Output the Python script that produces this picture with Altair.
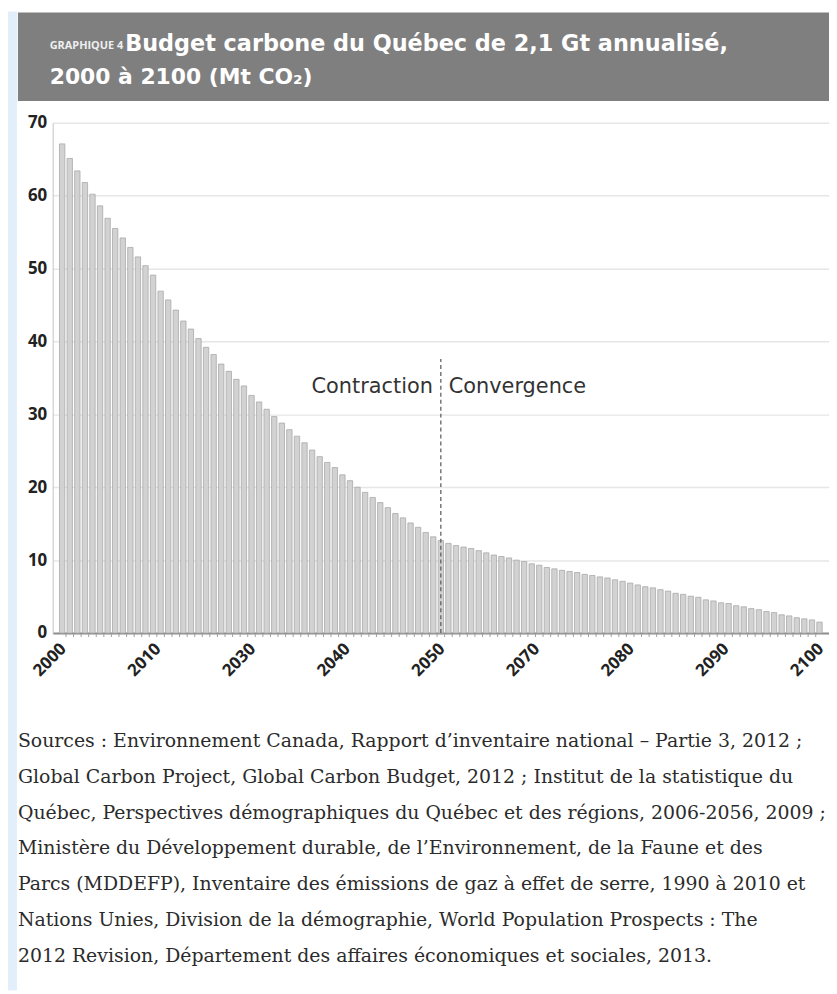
import altair as alt
import pandas as pd

# ---------------- data ----------------
years = list(range(2000, 2101))
values = [
    67.1, 65.1, 63.4, 61.8, 60.2, 58.6, 56.9, 55.5, 54.2, 52.9,
    51.6, 50.4, 49.1, 46.9, 45.7, 44.3, 42.8, 41.7, 40.4, 39.2,
    38.2, 36.9, 35.9, 34.8, 33.9, 32.6, 31.7, 30.7, 29.7, 28.8,
    27.9, 27.0, 26.1, 25.1, 24.2, 23.4, 22.7, 21.7, 20.9, 20.0,
    19.3, 18.6, 17.9, 17.2, 16.4, 15.8, 15.1, 14.5, 13.8, 13.2,
    12.7, 12.3, 12.0, 11.8, 11.6, 11.3, 11.0, 10.7, 10.5, 10.3,
    10.0, 9.8, 9.5, 9.3, 9.0, 8.8, 8.6, 8.45, 8.3, 8.05,
    7.9, 7.7, 7.55, 7.3, 7.1, 6.85, 6.6, 6.35, 6.2, 5.95,
    5.75, 5.45, 5.3, 5.05, 4.9, 4.55, 4.4, 4.15, 4.05, 3.75,
    3.6, 3.35, 3.2, 2.95, 2.8, 2.5, 2.35, 2.1, 1.95, 1.8,
    1.5,
]
tick_positions = [2000, 2012.5, 2025, 2037.5, 2050, 2062.5, 2075, 2087.5, 2100]
tick_labels = ["2000", "2010", "2030", "2040", "2050", "2070", "2080", "2090", "2100"]
y_ticks = [0, 10, 20, 30, 40, 50, 60, 70]

phase_year = [2050]
phase_top = [37.6]
phase_label_y = [33.7]
phase_labels = ["Contraction", "Convergence"]

header_kicker = "GRAPHIQUE 4"
header_lines = ["Budget carbone du Québec de 2,1 Gt annualisé,", "2000 à 2100 (Mt CO₂)"]
source_lines = [
    "Sources : Environnement Canada, Rapport d’inventaire national – Partie 3, 2012 ;",
    "Global Carbon Project, Global Carbon Budget, 2012 ; Institut de la statistique du",
    "Québec, Perspectives démographiques du Québec et des régions, 2006-2056, 2009 ;",
    "Ministère du Développement durable, de l’Environnement, de la Faune et des",
    "Parcs (MDDEFP), Inventaire des émissions de gaz à effet de serre, 1990 à 2010 et",
    "Nations Unies, Division de la démographie, World Population Prospects : The",
    "2012 Revision, Département des affaires économiques et sociales, 2013.",
]

# ---------------- layout ----------------
W, H = 782, 514
PAD_L, PAD_T = 45, 112
SANS = "Open Sans"
WIDE = "DejaVu Sans"

df = pd.DataFrame({"year": years, "value": values})
df_ticks = pd.DataFrame({"year": [y - 0.5 for y in years[1:]]})
df_phase = pd.DataFrame({"year": phase_year, "value": [0], "value2": phase_top})
df_lab = pd.DataFrame({"year": phase_year * 2, "value": phase_label_y * 2, "label": phase_labels})

pos_js = "[" + ",".join(str(p) for p in tick_positions) + "]"
lab_js = "[" + ",".join("'" + l + "'" for l in tick_labels) + "]"
label_expr = f"{lab_js}[indexof({pos_js}, datum.value)]"

xscale = alt.Scale(domain=[1999.4, 2100.6], nice=False, zero=False)
yscale = alt.Scale(domain=[0, 70], nice=False)

X = alt.X("year:Q", scale=xscale, title=None, axis=alt.Axis(
    values=tick_positions, labelExpr=label_expr, labelAngle=315,
    labelAlign="right", labelBaseline="middle", labelPadding=13, labelOffset=1,
    labelFlush=False, labelOverlap=False, labelBound=False,
    ticks=False, grid=False, domain=True, domainColor="#8f8f8f", domainWidth=2,
    labelFont=SANS, labelFontWeight="bold", labelFontSize=17, labelColor="#222",
    title=None))
Y = alt.Y("value:Q", scale=yscale, title=None, axis=alt.Axis(
    values=y_ticks, grid=True, gridColor="#e6e6e6", gridWidth=1.5, ticks=False,
    domain=True, domainColor="#c4c4c4", domainWidth=1,
    labelFont=SANS, labelFontWeight="bold", labelFontSize=17, labelColor="#222",
    labelPadding=6, title=None))
Xp = alt.X("year:Q", scale=xscale, title=None)
Yp = alt.Y("value:Q", scale=yscale, title=None)

bars = alt.Chart(df).mark_bar(
    size=5.4, fill="#d2d2d2", stroke="#a9a9a9", strokeWidth=0.8
).encode(x=X, y=Y)

minor = alt.Chart(df_ticks).mark_rule(color="#a0a0a0", strokeWidth=1).encode(
    x=Xp, y=alt.value(H + 1), y2=alt.value(H + 4))

phase_rule = alt.Chart(df_phase).mark_rule(
    color="#555555", strokeDash=[4, 3], strokeWidth=1.2
).encode(x=Xp, y=Yp, y2="value2:Q")

lab_left = alt.Chart(df_lab.iloc[[0]]).mark_text(
    align="right", baseline="middle", dx=-8, font=WIDE, fontSize=21, color="#333"
).encode(x=Xp, y=Yp, text="label:N")
lab_right = alt.Chart(df_lab.iloc[[1]]).mark_text(
    align="left", baseline="middle", dx=8, font=WIDE, fontSize=21, color="#333"
).encode(x=Xp, y=Yp, text="label:N")

one = pd.DataFrame({"k": [0]})
strip = alt.Chart(one).mark_rect(color="#e2effb").encode(
    x=alt.value(-PAD_L), x2=alt.value(-PAD_L + 9),
    y=alt.value(-PAD_T), y2=alt.value(H + 360))
header_box = alt.Chart(one).mark_rect(color="#7f7f7f").encode(
    x=alt.value(-35), x2=alt.value(W + 2), y=alt.value(-111), y2=alt.value(-22))
kicker = alt.Chart(pd.DataFrame({"t": [header_kicker]})).mark_text(
    align="left", baseline="middle", font=SANS, fontWeight="bold", fontSize=11,
    color="#efefef").encode(x=alt.value(-3), y=alt.value(-77), text="t:N")
head1 = alt.Chart(pd.DataFrame({"t": [header_lines[0]]})).mark_text(
    align="left", baseline="middle", font=WIDE, fontWeight="bold", fontSize=22.5,
    color="#ffffff").encode(x=alt.value(73), y=alt.value(-79), text="t:N")
head2 = alt.Chart(pd.DataFrame({"t": [header_lines[1]]})).mark_text(
    align="left", baseline="middle", font=WIDE, fontWeight="bold", fontSize=22,
    color="#ffffff").encode(x=alt.value(-3), y=alt.value(-46), text="t:N")

sources = alt.Chart(pd.DataFrame({"t": ["\n".join(source_lines)]})).mark_text(
    align="left", baseline="top", lineBreak="\n", lineHeight=36,
    font="DejaVu Serif", fontSize=19, color="#2b2b2b"
).encode(x=alt.value(-35), y=alt.value(614), text="t:N")

chart = alt.layer(
    strip, header_box, kicker, head1, head2,
    bars, minor, phase_rule, lab_left, lab_right, sources,
).properties(
    width=W, height=H,
    padding={"left": PAD_L, "top": PAD_T, "right": 0, "bottom": 360},
    autosize=alt.AutoSizeParams(type="none"),
    background="white",
).configure_view(stroke=None)

chart.save("out.html", embed_options={"renderer": "svg", "actions": False})
